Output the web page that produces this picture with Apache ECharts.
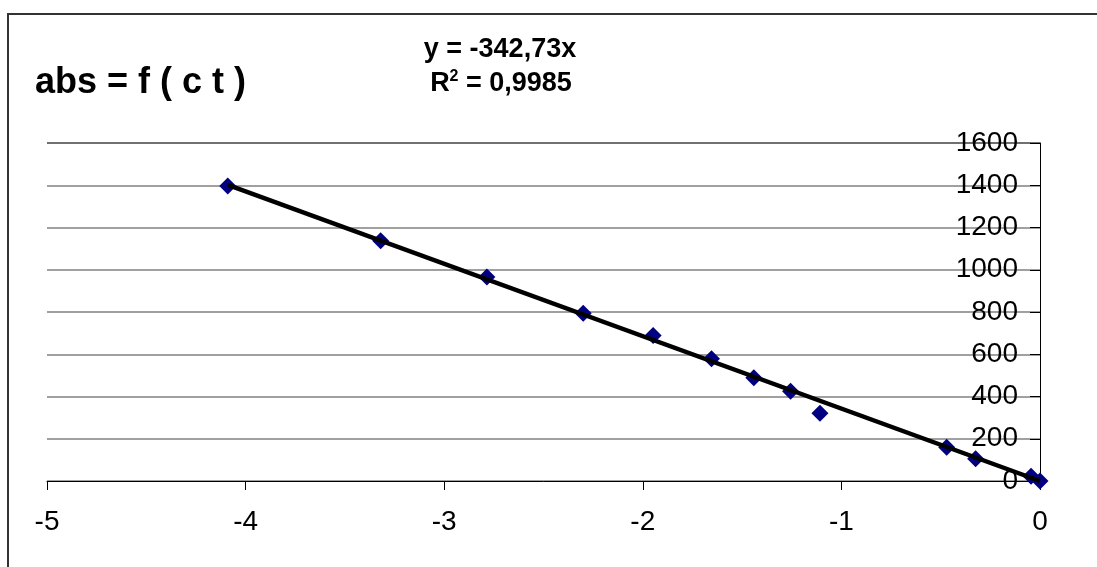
<!DOCTYPE html>
<html>
<head>
<meta charset="utf-8">
<script src="https://cdn.jsdelivr.net/npm/echarts@6/dist/echarts.min.js"></script>
<style>
html,body{margin:0;padding:0;background:#fff;}
#chart{width:1097px;height:567px;}
</style>
</head>
<body>
<div id="chart"></div>
<script>
// Data
const ctValues  = [-4.09, -3.32, -2.785, -2.30, -1.948, -1.654, -1.441, -1.256, -1.108, -0.470, -0.324, -0.045, 0];
const absValues = [1396, 1137, 966, 794, 689, 579, 489, 425, 321, 160, 105, 23, 0];
const trendSlope = -342.73;        // from the displayed trendline equation
const trendXRange = [-4.09, 0];    // trendline spans the data range
const titleText = 'abs = f ( c t )';
const eqLine1 = 'y = -342,73x';
const eqLine2 = 'R';
const eqLine2b = ' = 0,9985';

const FONT = '"Liberation Sans", Arial, sans-serif';

const points = ctValues.map((x, i) => [x, absValues[i]]);
const trend = trendXRange.map(x => [x, trendSlope * x]);

const chart = echarts.init(document.getElementById('chart'), null, {renderer: 'canvas'});
chart.setOption({
  animation: false,
  backgroundColor: '#ffffff',
  textStyle: {fontFamily: FONT},
  grid: {left: 47, right: 57, top: 143, bottom: 86, containLabel: false},
  graphic: [
    {type: 'rect', shape: {x: 8, y: 14, width: 1300, height: 800},
     style: {fill: 'none', stroke: '#333333', lineWidth: 2}, silent: true, z: 0},
    {type: 'text', x: 35, y: 83,
     style: {text: titleText, font: 'bold 36px ' + FONT, fill: '#000', align: 'left', verticalAlign: 'middle'}},
    {type: 'text', x: 500, y: 50,
     style: {text: eqLine1, font: 'bold 27px ' + FONT, fill: '#000', align: 'center', verticalAlign: 'middle'}},
    {type: 'text', x: 501, y: 84,
     style: {
       text: '{r|' + eqLine2 + '}{s|2}{r|' + eqLine2b + '}',
       align: 'center', verticalAlign: 'middle',
       rich: {
         r: {fontSize: 27, fontWeight: 'bold', fontFamily: FONT, color: '#000', lineHeight: 30},
         s: {fontSize: 16, fontWeight: 'bold', fontFamily: FONT, color: '#000', verticalAlign: 'top', lineHeight: 16}
       }
     }}
  ],
  xAxis: {
    type: 'value', min: -5, max: 0, interval: 1,
    position: 'bottom',
    axisLine: {show: true, onZero: false, lineStyle: {color: '#000', width: 1}},
    axisTick: {show: true, length: 9, lineStyle: {color: '#000', width: 1}},
    axisLabel: {fontSize: 28, color: '#000', fontFamily: FONT, margin: 27},
    splitLine: {show: false}
  },
  yAxis: {
    type: 'value', min: 0, max: 1600, interval: 200,
    position: 'right',
    axisLine: {show: true, onZero: false, lineStyle: {color: '#000', width: 1}},
    axisTick: {show: true, inside: true, length: 10, lineStyle: {color: '#000', width: 1}},
    axisLabel: {inside: true, fontSize: 28, color: '#000', fontFamily: FONT, margin: 22,
                formatter: v => String(v)},
    splitLine: {show: true, lineStyle: {color: ['#808080','#808080','#808080','#808080','#808080','#808080','#808080','#808080','#404040'], width: 1.5}}
  },
  series: [
    {
      type: 'scatter', data: points, symbol: 'diamond', symbolSize: 17,
      itemStyle: {color: '#000080', opacity: 1}, z: 2
    },
    {
      type: 'line', data: trend, showSymbol: false, symbol: 'none',
      lineStyle: {color: '#000', width: 4.5}, z: 3
    }
  ]
});
</script>
</body>
</html>
